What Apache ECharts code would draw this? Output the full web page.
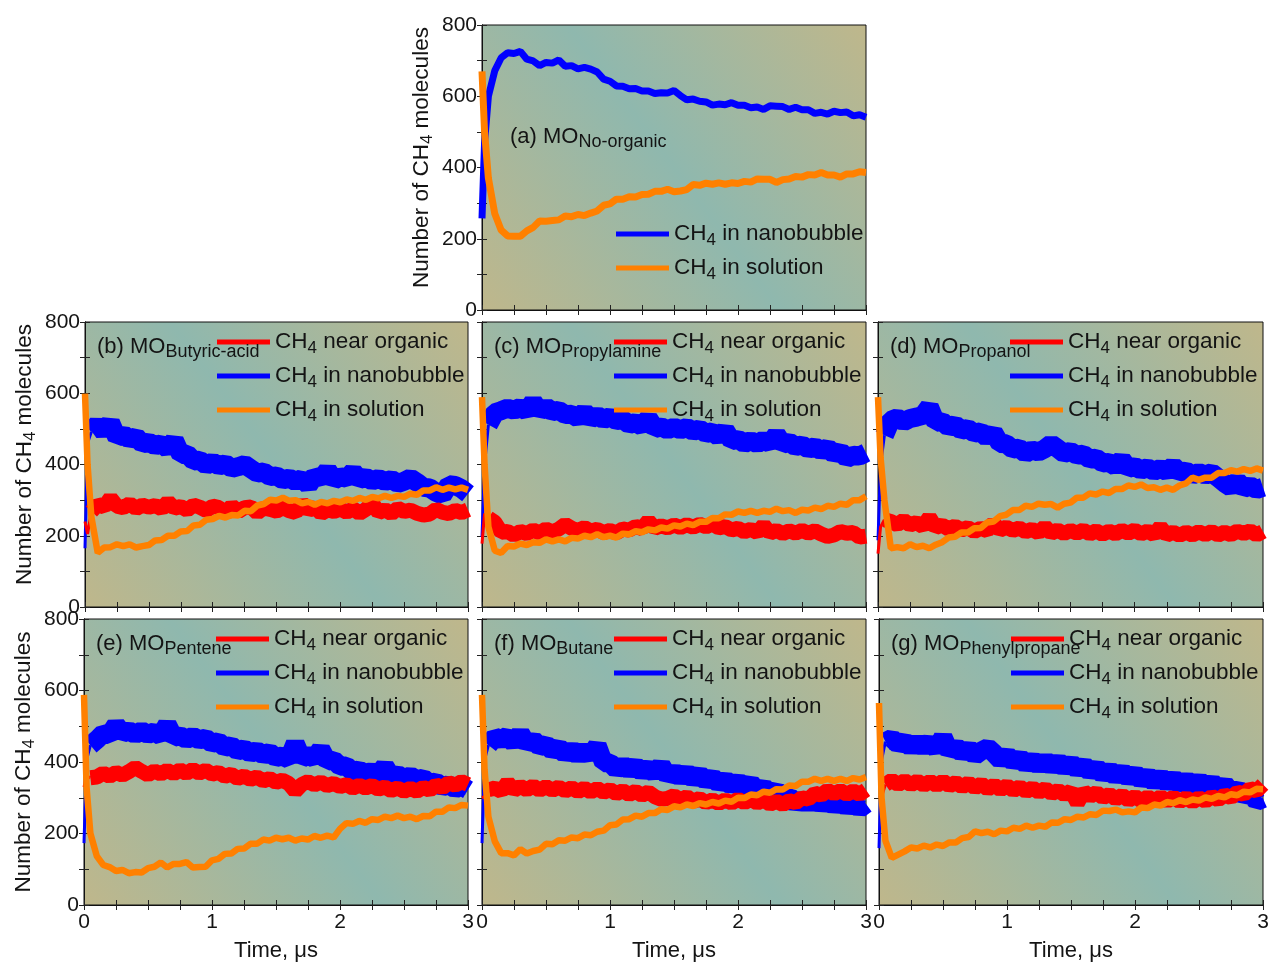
<!DOCTYPE html>
<html>
<head>
<meta charset="utf-8">
<title>CH4 molecules vs time</title>
<script src="https://cdn.jsdelivr.net/npm/echarts@6/dist/echarts.min.js"></script>
<style>
  html, body { margin: 0; padding: 0; background: #ffffff; }
  #chart { width: 1271px; height: 967px; }
</style>
</head>
<body>
<div id="chart"></div>
<script>
// Sampling times (µs) shared by every trace
const times = [0, 0.02, 0.05,
  0.1, 0.15, 0.2, 0.25, 0.3, 0.35, 0.4, 0.45, 0.5,
  0.55, 0.6, 0.65, 0.7, 0.75, 0.8, 0.85, 0.9, 0.95, 1,
  1.05, 1.1, 1.15, 1.2, 1.25, 1.3, 1.35, 1.4, 1.45, 1.5,
  1.55, 1.6, 1.65, 1.7, 1.75, 1.8, 1.85, 1.9, 1.95, 2,
  2.05, 2.1, 2.15, 2.2, 2.25, 2.3, 2.35, 2.4, 2.45, 2.5,
  2.55, 2.6, 2.65, 2.7, 2.75, 2.8, 2.85, 2.9, 2.95, 3];

const xTickLabels = [0, 1, 2, 3];
const yTickLabels = [0, 200, 400, 600, 800];

const seriesNames = ['CH4 near organic', 'CH4 in nanobubble', 'CH4 in solution'];
const organicNames = ['No-organic', 'Butyric-acid', 'Propylamine', 'Propanol', 'Pentene', 'Butane', 'Phenylpropane'];
const panelTags = ['(a)', '(b)', '(c)', '(d)', '(e)', '(f)', '(g)'];

// (a) no organic
const aNanobubble = [257, 470, 600,
  672, 708, 722, 720, 726, 704, 699, 686, 695,
  693, 702, 684, 686, 677, 681, 676, 668, 648, 642,
  629, 628, 621, 622, 615, 615, 608, 610, 609, 616,
  602, 590, 592, 586, 584, 575, 578, 576, 582, 575,
  575, 568, 570, 563, 573, 572, 571, 563, 569, 562,
  562, 552, 555, 550, 558, 554, 556, 545, 548, 541];
const aSolution = [670, 500, 370,
  270, 224, 208, 207, 207, 222, 232, 250, 249,
  251, 253, 264, 262, 268, 265, 272, 278, 294, 298,
  311, 311, 318, 317, 324, 325, 333, 333, 339, 332,
  334, 338, 352, 350, 356, 353, 357, 353, 357, 355,
  361, 359, 368, 367, 367, 358, 366, 368, 375, 373,
  380, 379, 386, 379, 379, 373, 382, 382, 388, 386];

// (b) butyric acid
const bNearOrganic = [240, 205, 268,
  288, 281, 306, 283, 279, 290, 276, 286, 280,
  285, 275, 296, 277, 282, 272, 286, 280, 271, 283,
  279, 262, 284, 268, 279, 281, 264, 278, 274, 269,
  279, 270, 265, 292, 271, 281, 262, 273, 268, 275,
  266, 276, 263, 274, 292, 265, 273, 262, 277, 268,
  272, 263, 258, 261, 274, 266, 262, 271, 265, 273];
const bNanobubble = [165, 460, 492,
  515, 490, 518, 476, 485, 470, 478, 458, 463,
  452, 459, 443, 468, 428, 430, 410, 412, 398, 407,
  396, 402, 389, 394, 400, 388, 376, 379, 366, 368,
  357, 362, 352, 361, 342, 369, 360, 384, 356, 366,
  361, 380, 358, 364, 354, 361, 352, 358, 347, 353,
  362, 350, 336, 334, 322, 314, 343, 341, 332, 318];
const bSolution = [599, 400, 253,
  152, 167, 168, 176, 171, 176, 167, 171, 174,
  187, 188, 200, 200, 212, 213, 229, 231, 245, 247,
  256, 251, 258, 257, 270, 269, 285, 289, 301, 299,
  307, 298, 300, 291, 295, 287, 295, 291, 298, 294,
  302, 298, 306, 301, 309, 305, 312, 306, 312, 309,
  318, 315, 327, 327, 336, 329, 335, 330, 335, 329];

// (c) propylamine
const cNearOrganic = [178, 262, 250,
  238, 210, 212, 201, 212, 206, 216, 208, 219,
  211, 219, 232, 221, 215, 223, 213, 218, 209, 215,
  208, 219, 216, 226, 220, 242, 221, 228, 222, 230,
  223, 231, 224, 232, 225, 233, 222, 226, 216, 221,
  211, 218, 209, 230, 207, 215, 206, 214, 207, 215,
  207, 214, 205, 198, 202, 212, 207, 209, 196, 199];
const cNanobubble = [196, 400, 512,
  545, 551, 558, 552, 561, 549, 576, 550, 562,
  548, 552, 540, 541, 530, 548, 528, 538, 526, 534,
  523, 526, 512, 518, 507, 530, 501, 506, 497, 505,
  497, 504, 493, 500, 487, 492, 477, 496, 467, 471,
  459, 467, 458, 469, 459, 484, 457, 463, 450, 455,
  443, 450, 438, 447, 429, 437, 417, 426, 424, 433];
const cSolution = [589, 400, 225,
  158, 152, 171, 170, 178, 174, 182, 180, 190,
  184, 190, 184, 194, 192, 200, 196, 204, 196, 200,
  195, 206, 204, 213, 210, 218, 215, 223, 220, 229,
  226, 234, 230, 239, 239, 250, 249, 260, 259, 268,
  264, 270, 264, 270, 267, 276, 269, 272, 264, 273,
  271, 279, 275, 284, 281, 290, 287, 300, 300, 311];

// (d) propanol
const dNearOrganic = [150, 225, 245,
  240, 231, 244, 230, 237, 226, 252, 223, 230,
  219, 227, 216, 223, 212, 221, 214, 236, 216, 224,
  215, 222, 211, 218, 208, 226, 207, 216, 206, 215,
  207, 216, 205, 214, 204, 213, 205, 215, 207, 216,
  205, 213, 203, 225, 202, 210, 201, 210, 202, 211,
  203, 212, 202, 210, 203, 213, 206, 214, 202, 212];
const dNanobubble = [187, 400, 482,
  524, 531, 520, 529, 533, 538, 562, 518, 521,
  505, 512, 496, 501, 488, 492, 475, 490, 459, 458,
  443, 446, 431, 441, 435, 444, 458, 445, 431, 437,
  426, 429, 415, 418, 404, 406, 395, 414, 389, 395,
  384, 391, 381, 389, 380, 396, 378, 382, 370, 378,
  370, 377, 363, 348, 336, 354, 333, 340, 330, 336];
const dSolution = [589, 420, 300,
  165, 168, 165, 176, 168, 172, 165, 175, 182,
  195, 197, 209, 209, 221, 222, 237, 240, 255, 259,
  272, 272, 284, 281, 290, 287, 289, 279, 290, 293,
  307, 307, 319, 316, 324, 320, 331, 331, 341, 337,
  344, 334, 336, 329, 335, 329, 341, 347, 363, 357,
  363, 363, 376, 376, 384, 380, 387, 382, 389, 383];

// (e) pentene
const eNearOrganic = [330, 360, 356,
  358, 369, 360, 371, 363, 373, 385, 374, 364,
  375, 366, 377, 367, 378, 368, 379, 369, 377, 366,
  371, 360, 366, 354, 361, 351, 358, 347, 354, 343,
  349, 340, 318, 337, 345, 336, 344, 334, 340, 331,
  337, 327, 335, 327, 334, 324, 330, 320, 327, 318,
  326, 318, 329, 321, 336, 328, 342, 335, 345, 337];
const eNanobubble = [173, 406, 447,
  462, 480, 476, 504, 480, 488, 477, 487, 477,
  484, 473, 505, 469, 474, 463, 472, 462, 467, 452,
  457, 441, 446, 431, 437, 424, 432, 420, 427, 412,
  417, 408, 452, 410, 420, 410, 436, 402, 406, 388,
  389, 372, 378, 365, 374, 364, 388, 359, 365, 353,
  361, 350, 355, 339, 344, 330, 337, 325, 333, 322];
const eSolution = [588, 330, 200,
  137, 112, 106, 95, 98, 89, 92, 91, 103,
  107, 119, 105, 115, 115, 120, 105, 106, 107, 125,
  129, 143, 144, 157, 158, 171, 171, 183, 180, 188,
  184, 188, 180, 186, 183, 193, 188, 194, 189, 213,
  229, 227, 235, 230, 240, 238, 247, 243, 250, 243,
  247, 240, 249, 248, 261, 261, 273, 271, 280, 278];

// (f) butane
const fNearOrganic = [300, 303, 322,
  327, 318, 343, 321, 332, 322, 333, 321, 331,
  321, 330, 319, 328, 317, 327, 316, 326, 315, 323,
  311, 320, 309, 318, 307, 316, 303, 296, 298, 306,
  294, 303, 290, 298, 286, 294, 284, 294, 285, 296,
  286, 296, 285, 294, 282, 290, 281, 292, 286, 300,
  296, 313, 307, 321, 311, 320, 310, 319, 310, 322];
const fNanobubble = [173, 406, 447,
  470, 462, 473, 452, 480, 450, 462, 443, 449,
  431, 441, 421, 435, 418, 433, 418, 446, 398, 398,
  379, 392, 377, 389, 372, 385, 367, 391, 360, 373,
  357, 370, 353, 365, 347, 358, 339, 351, 333, 346,
  329, 341, 319, 330, 311, 322, 298, 304, 282, 297,
  282, 297, 280, 293, 277, 290, 273, 286, 270, 283];
const fSolution = [588, 378, 247,
  178, 145, 145, 139, 156, 144, 151, 155, 171,
  170, 181, 180, 189, 187, 197, 195, 205, 208, 223,
  225, 239, 240, 250, 247, 257, 257, 268, 266, 276,
  273, 281, 277, 285, 281, 288, 284, 292, 289, 300,
  299, 309, 307, 317, 314, 324, 323, 334, 333, 345,
  345, 353, 347, 353, 347, 353, 347, 355, 351, 358];

// (g) phenylpropane
const gNearOrganic = [300, 303, 337,
  349, 337, 348, 336, 347, 335, 346, 334, 347,
  333, 343, 330, 342, 327, 339, 324, 336, 322, 334,
  320, 331, 317, 328, 315, 326, 311, 321, 308, 319,
  285, 318, 304, 315, 300, 310, 296, 307, 293, 304,
  291, 303, 291, 303, 290, 302, 289, 300, 288, 300,
  290, 304, 294, 308, 300, 316, 309, 326, 319, 337];
const gNanobubble = [159, 406, 457,
  466, 449, 458, 441, 456, 440, 457, 435, 470,
  429, 444, 424, 438, 418, 431, 440, 424, 405, 420,
  399, 412, 392, 406, 389, 405, 387, 402, 383, 398,
  378, 392, 371, 385, 364, 378, 359, 374, 354, 369,
  348, 362, 343, 359, 340, 355, 336, 351, 333, 349,
  329, 344, 323, 338, 315, 327, 303, 314, 290, 298];
const gSolution = [565, 300, 180,
  132, 141, 150, 161, 158, 166, 161, 169, 165,
  175, 175, 187, 190, 206, 201, 205, 198, 208, 206,
  216, 213, 222, 216, 222, 219, 231, 230, 240, 238,
  247, 245, 254, 252, 264, 263, 267, 259, 262, 259,
  273, 271, 281, 278, 288, 285, 293, 288, 295, 292,
  301, 297, 305, 301, 310, 307, 317, 315, 325, 324];

// ---- styling ----
const FONT = "'Liberation Sans', Arial, Helvetica, sans-serif";
const TEXT = '#141414';
const RED = '#ff0000', BLUE = '#0000ff', ORANGE = '#ff8000';
const TEAL = '#8fb8ae', TAN = '#bfb78b';

// panel frames: a on top, b-d middle row, e-g bottom row
const frames = [
  { left: 482, top: 25,  width: 384, height: 285 },
  { left: 85,  top: 322, width: 383, height: 285 },
  { left: 482, top: 322, width: 384, height: 285 },
  { left: 878, top: 322, width: 385, height: 285 },
  { left: 84,  top: 619, width: 384, height: 286 },
  { left: 482, top: 619, width: 384, height: 286 },
  { left: 879, top: 619, width: 384, height: 286 }
];

const panelData = [
  { nano: aNanobubble, sol: aSolution },
  { near: bNearOrganic, nano: bNanobubble, sol: bSolution },
  { near: cNearOrganic, nano: cNanobubble, sol: cSolution },
  { near: dNearOrganic, nano: dNanobubble, sol: dSolution },
  { near: eNearOrganic, nano: eNanobubble, sol: eSolution },
  { near: fNearOrganic, nano: fNanobubble, sol: fSolution },
  { near: gNearOrganic, nano: gNanobubble, sol: gSolution }
];

const showYLabels = [true, true, false, false, true, false, false];
const showXLabels = [false, false, false, false, true, true, true];
// the upper y titles sit a little above their panel centre
const yNamePad = [[0, 0, 0, 20], [0, 0, 0, 20], 0, 0, 0, 0, 0];

const subRich = { s: { fontSize: 17, lineHeight: 17, verticalAlign: 'bottom', fontFamily: FONT, color: TEXT } };

function bg() {
  return new echarts.graphic.LinearGradient(0, 1, 1, 0, [
    { offset: 0, color: TAN },
    { offset: 0.5, color: TEAL },
    { offset: 1, color: TAN }
  ]);
}

const grid = [], xAxis = [], yAxis = [], series = [], legend = [], title = [];

frames.forEach((f, i) => {
  grid.push(Object.assign({
    show: true, backgroundColor: bg(), borderColor: '#111', borderWidth: 1,
    containLabel: false, outerBoundsMode: 'none'
  }, f));

  const tickStyle = { show: true, inside: true, length: 5, lineStyle: { color: '#222', width: 1 } };
  xAxis.push({
    type: 'value', gridIndex: i, min: 0, max: 3, interval: 0.25,
    axisLine: { show: true, lineStyle: { color: '#111', width: 1 } },
    axisTick: tickStyle, splitLine: { show: false },
    axisLabel: {
      show: showXLabels[i], margin: 7, fontSize: 21, color: TEXT, fontFamily: FONT,
      showMinLabel: true, showMaxLabel: true,
      formatter: v => (xTickLabels.includes(Math.round(v * 1000) / 1000) ? String(Math.round(v)) : '')
    },
    name: showXLabels[i] ? 'Time, μs' : '', nameLocation: 'middle', nameGap: 35,
    nameTextStyle: { fontSize: 22, color: TEXT, fontFamily: FONT }
  });
  xAxis.push({
    type: 'value', gridIndex: i, min: 0, max: 3, interval: 0.25, position: 'top',
    axisLine: { show: true, lineStyle: { color: '#111', width: 1 } },
    axisTick: tickStyle, axisLabel: { show: false }, splitLine: { show: false }
  });
  yAxis.push({
    type: 'value', gridIndex: i, min: 0, max: 800, interval: 100,
    axisLine: { show: true, lineStyle: { color: '#111', width: 1 } },
    axisTick: tickStyle, splitLine: { show: false },
    axisLabel: {
      show: showYLabels[i], margin: 5, fontSize: 21, color: TEXT, fontFamily: FONT,
      showMinLabel: true, showMaxLabel: true,
      formatter: v => (yTickLabels.includes(v) ? String(v) : '')
    },
    name: showYLabels[i] ? 'Number of CH{s|4} molecules' : '',
    nameLocation: 'middle', nameGap: 46, nameRotate: 90, nameMoveOverlap: false,
    nameTextStyle: { fontSize: 22.5, color: TEXT, fontFamily: FONT, lineHeight: 28, padding: yNamePad[i], rich: subRich }
  });
  yAxis.push({
    type: 'value', gridIndex: i, min: 0, max: 800, interval: 100, position: 'right',
    axisLine: { show: true, lineStyle: { color: '#111', width: 1 } },
    axisTick: tickStyle, axisLabel: { show: false }, splitLine: { show: false }
  });

  const d = panelData[i];
  // draws values[from..to) against the shared time samples
  const addLine = (name, values, color, width, from, to) => {
    const pts = [];
    for (let k = from; k < to; k++) pts.push([times[k], values[k]]);
    series.push({
      type: 'line', name, xAxisIndex: 2 * i, yAxisIndex: 2 * i,
      data: pts,
      showSymbol: false, symbol: 'none', silent: true,
      itemStyle: { color },
      lineStyle: { color, width, join: 'bevel', cap: 'butt' }
    });
  };
  const n = times.length;
  if (d.near) {
    // thin lead-in for the fast initial jump, then the broad fluctuating trace
    addLine(seriesNames[1], d.nano, BLUE, 3, 0, 3);
    addLine(seriesNames[1], d.nano, BLUE, 19, 2, n);
    addLine(seriesNames[0], d.near, RED, 3, 0, 3);
    addLine(seriesNames[0], d.near, RED, 15, 2, n);
    addLine(seriesNames[2], d.sol, ORANGE, 6.5, 0, n);
  } else {
    addLine(seriesNames[1], d.nano, BLUE, 7, 0, n);
    addLine(seriesNames[2], d.sol, ORANGE, 7, 0, n);
  }

  // legend block, one per panel
  const legendData = d.near ? seriesNames.slice() : [seriesNames[1], seriesNames[2]];
  const legLeft = f.left + (i === 0 ? 134 : 132);
  const legTop = i === 0 ? 219 : f.top + 5;
  legend.push({
    data: legendData, orient: 'vertical', left: legLeft, top: legTop,
    padding: 0, itemGap: 4, itemWidth: 53, itemHeight: 5, icon: 'rect',
    selectedMode: false,
    formatter: nm => nm.replace('CH4', 'CH{s|4}'),
    textStyle: { fontSize: 22.5, color: TEXT, fontFamily: FONT, lineHeight: 30, rich: subRich }
  });

  // panel tag, e.g. "(b) MO_Butyric-acid"
  title.push({
    text: panelTags[i] + ' MO{s|' + organicNames[i] + '}',
    left: i === 0 ? 510 : f.left + 12,
    top: i === 0 ? 123 : f.top + 11,
    padding: 0,
    textStyle: {
      fontSize: 22, fontWeight: 'normal', color: TEXT, fontFamily: FONT, lineHeight: 28,
      rich: { s: { fontSize: 18, lineHeight: 16, verticalAlign: 'bottom', fontFamily: FONT, color: TEXT } }
    }
  });
});

const chart = echarts.init(document.getElementById('chart'), null, { renderer: 'canvas' });
chart.setOption({
  animation: false,
  backgroundColor: '#ffffff',
  textStyle: { fontFamily: FONT },
  title, grid, xAxis, yAxis, series, legend
});
</script>
</body>
</html>
